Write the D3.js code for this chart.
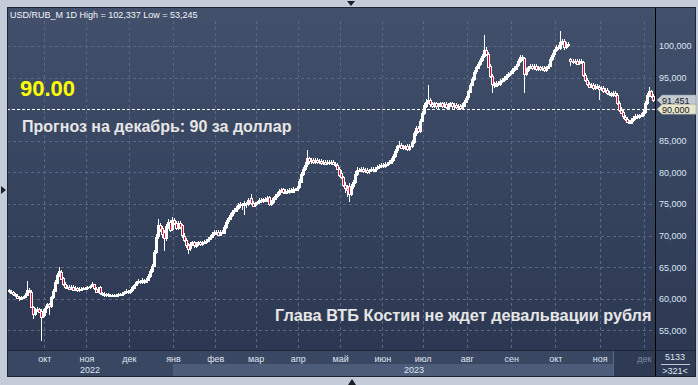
<!DOCTYPE html>
<html>
<head>
<meta charset="utf-8">
<script src="https://cdn.jsdelivr.net/npm/d3@7"></script>
<style>
html, body { margin: 0; padding: 0; background: #c3ccd8; }
svg { display: block; font-family: "Liberation Sans", Arial, sans-serif; }
</style>
</head>
<body>
<svg id="chart" width="698" height="385"></svg>
<script>
/* data: USD/RUB_M daily candles, Sep 2022 - Dec 2023 */

var opens = [
  61.3,61.1,61.0,60.7,60.5,60.2,60.0,60.1,60.3,60.6,
  61.4,61.1,58.7,57.6,58.2,58.4,58.1,57.2,58.0,58.6,
  59.1,58.8,60.2,61.2,62.6,63.8,64.3,63.2,62.3,61.8,
  61.9,61.6,61.9,61.5,61.7,61.4,61.6,61.5,61.7,61.6,
  61.8,62.0,62.3,61.6,61.2,61.8,60.9,60.8,60.6,60.7,
  60.5,60.6,60.4,60.6,60.5,60.7,60.6,60.8,61.0,61.2,
  61.0,61.3,61.8,62.2,62.6,62.8,62.6,62.9,62.7,63.0,
  63.6,64.4,65.2,67.4,69.8,71.6,71.2,70.6,69.6,71.5,
  72.2,71.0,72.4,72.0,71.2,72.0,71.6,70.0,69.3,68.5,
  67.9,68.6,68.9,68.4,68.7,68.9,68.6,68.9,69.0,69.2,
  69.5,69.8,70.3,70.6,70.6,70.2,70.6,70.5,71.4,72.2,
  72.7,73.3,73.8,74.0,74.4,74.8,75.0,74.8,75.1,74.9,
  76.0,75.2,74.8,75.1,75.3,75.6,75.5,75.8,75.6,76.1,
  75.0,75.3,75.9,76.3,76.6,77.0,77.3,76.8,77.1,76.9,
  77.2,77.0,77.4,77.3,77.6,78.6,79.8,80.6,81.2,82.2,
  81.8,82.0,81.7,81.9,81.6,81.8,81.5,81.7,81.4,81.6,
  81.5,81.7,81.4,81.2,80.6,79.9,79.2,78.0,77.5,77.9,
  76.6,77.8,78.5,79.8,80.4,80.3,80.5,80.2,80.4,80.1,
  80.3,80.5,80.3,80.6,80.8,81.0,81.2,81.0,81.3,81.4,
  81.6,82.0,82.6,83.4,84.1,84.4,84.0,83.8,84.2,83.7,
  84.2,84.8,86.2,87.0,86.6,88.2,89.4,90.6,91.2,91.5,
  90.8,90.5,90.9,90.4,90.6,90.9,90.5,90.8,90.3,90.7,
  90.9,90.4,90.6,90.3,90.5,90.2,90.6,91.2,91.8,92.8,
  93.9,94.8,95.9,96.6,97.2,97.8,98.4,99.4,98.8,96.8,
  95.2,94.0,93.8,94.2,94.0,94.4,94.6,94.9,95.3,95.6,
  95.8,96.2,96.5,96.9,97.6,98.2,98.1,95.6,96.2,96.6,
  96.8,96.5,96.9,96.4,96.6,96.3,96.5,96.2,96.6,96.9,
  98.0,98.6,99.3,99.8,99.6,100.6,100.8,99.9,100.3,97.9,
  97.6,97.5,97.7,97.3,97.6,97.4,95.4,94.6,94.0,93.6,
  93.8,93.4,93.7,93.5,93.2,93.3,92.9,93.0,92.6,92.4,
  92.3,92.5,92.2,91.0,89.9,89.5,88.8,88.5,88.0,87.9,
  88.3,88.6,88.9,88.7,89.0,89.1,89.6,91.0,92.3,92.8,
  92.1
];

var highs = [
  61.5,61.3,61.2,60.9,60.7,60.4,60.4,60.5,60.9,62.8,
  61.7,61.3,58.9,58.5,58.7,58.6,58.4,58.3,58.9,59.4,
  59.4,60.5,61.5,62.9,64.1,65.0,64.6,63.5,62.6,62.2,
  62.1,62.1,62.1,62.0,61.9,61.9,61.8,61.9,61.9,62.0,
  62.2,62.6,62.4,61.8,61.8,62.0,61.1,61.0,60.9,60.9,
  60.8,60.8,60.8,60.8,60.9,60.9,61.0,61.2,61.5,61.4,
  61.5,62.0,62.4,62.8,63.1,63.0,63.2,63.1,63.3,63.9,
  64.7,65.5,67.7,70.2,72.6,72.0,71.5,70.9,71.8,72.6,
  72.5,72.9,72.7,72.3,72.3,72.3,71.9,70.4,69.6,68.8,
  68.9,69.2,69.2,69.0,69.2,69.2,69.1,69.3,69.4,69.8,
  70.1,70.6,70.9,70.9,70.8,70.9,70.8,71.6,72.5,73.0,
  73.6,74.1,74.3,74.7,75.1,75.3,75.2,75.4,75.3,75.9,
  76.6,75.5,75.3,75.5,75.9,75.9,76.0,76.1,76.3,76.3,
  75.6,76.1,76.6,76.9,77.3,77.5,77.6,77.4,77.4,77.5,
  77.5,77.7,77.6,77.9,78.9,80.1,80.9,81.6,83.5,82.5,
  82.3,82.3,82.2,82.2,82.1,82.1,82.0,82.0,81.9,81.9,
  82.0,82.0,81.7,81.5,80.9,80.4,79.5,78.5,78.0,78.3,
  78.1,78.8,80.2,80.9,80.7,80.8,80.8,80.7,80.7,80.6,
  80.8,80.8,80.9,81.1,81.3,81.5,81.5,81.6,81.7,81.9,
  82.3,82.9,83.7,84.4,85.0,84.7,84.3,84.4,84.5,84.5,
  85.1,86.5,87.3,87.3,88.5,89.7,91.0,91.6,93.8,91.8,
  91.1,91.2,91.2,90.9,91.2,91.2,91.1,91.1,91.0,91.2,
  91.2,90.9,90.9,90.8,90.8,90.9,91.5,92.1,93.1,94.2,
  95.1,96.2,96.9,97.5,98.1,98.8,101.7,99.8,99.1,97.1,
  95.5,94.3,94.5,94.5,94.7,94.9,95.2,95.6,95.9,96.1,
  96.5,96.8,97.2,97.9,98.6,98.6,98.3,96.5,96.9,97.1,
  97.1,97.1,97.2,96.9,96.9,96.8,96.8,96.9,97.2,98.3,
  98.9,99.6,100.1,100.2,102.337,101.1,101.1,100.6,100.6,98.1,
  97.9,98.0,97.9,97.9,97.9,97.6,95.7,94.9,94.3,94.1,
  94.1,94.0,94.0,93.8,93.6,93.6,93.3,93.3,92.9,92.7,
  92.8,92.8,92.5,91.3,90.3,89.8,89.1,88.8,88.3,88.6,
  88.9,89.2,89.2,89.3,89.4,89.9,91.3,92.6,93.5,93.1,
  92.4
];

var lows = [
  60.9,60.8,60.5,60.3,60.0,59.7,59.8,59.9,60.1,60.4,
  60.9,58.5,56.8,57.3,57.9,57.7,53.245,56.9,57.3,58.3,
  57.4,58.6,60.0,61.0,62.4,63.5,63.0,62.0,61.5,61.5,
  61.3,61.3,61.2,61.2,61.1,61.1,61.2,61.3,61.3,61.3,
  61.6,61.8,61.4,60.9,60.9,60.6,60.5,60.3,60.3,60.2,
  60.2,60.2,60.2,60.3,60.3,60.4,60.4,60.6,60.8,60.8,
  60.8,61.1,61.6,62.0,62.4,62.3,62.4,62.4,62.5,62.8,
  63.3,64.1,65.0,67.0,69.4,70.6,69.6,67.5,69.2,71.0,
  70.6,70.7,71.6,70.8,70.9,71.0,69.6,68.9,68.1,67.1,
  67.6,68.3,68.1,68.1,68.4,68.3,68.3,68.6,68.7,68.9,
  69.3,69.6,70.0,70.1,69.9,70.0,70.2,70.2,71.1,71.9,
  72.4,73.0,73.4,73.8,74.1,74.3,74.1,73.3,74.4,74.6,
  74.9,74.5,74.5,74.8,75.0,75.2,75.2,75.3,75.3,74.7,
  74.7,75.0,75.6,76.0,76.3,76.7,76.5,76.5,76.6,76.6,
  76.7,76.8,77.0,77.0,77.4,78.3,79.4,80.2,80.8,81.4,
  81.4,81.4,81.4,81.3,81.3,81.2,81.2,81.1,81.1,81.2,
  81.2,81.1,80.9,80.3,79.3,78.9,77.7,76.8,76.1,75.3,
  76.2,77.3,78.2,79.5,80.0,80.0,79.9,79.9,79.8,79.8,
  80.0,80.0,80.0,80.3,80.5,80.7,80.7,80.7,81.0,81.1,
  81.3,81.7,82.3,83.1,83.8,83.7,83.5,83.5,83.4,83.4,
  83.9,84.5,85.8,86.2,86.3,87.9,89.0,90.2,90.8,90.4,
  90.2,90.2,90.1,90.1,90.3,90.2,90.2,90.0,90.0,90.4,
  90.1,90.1,90.0,90.0,89.9,89.9,90.3,90.9,91.5,92.5,
  93.6,94.5,95.6,96.3,96.9,97.5,98.1,98.4,96.5,94.9,
  92.6,93.4,93.5,93.7,93.7,94.1,94.3,94.6,95.0,95.3,
  95.5,95.9,96.2,96.6,97.3,97.7,92.6,95.2,95.9,96.3,
  96.2,96.2,96.1,96.1,96.0,96.0,95.9,95.9,96.3,96.6,
  97.7,98.3,99.0,99.3,99.3,100.2,99.4,99.6,99.9,96.8,
  97.2,97.2,97.0,97.0,97.1,95.1,94.3,93.7,93.3,93.3,
  93.1,93.1,93.2,91.5,92.9,92.6,92.6,92.3,92.1,92.0,
  92.0,91.9,90.7,89.6,89.2,88.5,88.2,87.8,87.7,87.7,
  88.0,88.3,88.4,88.4,88.7,88.8,89.3,90.7,92.0,91.7,
  91.1
];

var closes = [
  61.1,61.0,60.7,60.5,60.2,60.0,60.1,60.3,60.6,61.4,
  61.2,58.8,57.6,58.2,58.4,58.0,57.2,58.0,58.6,59.1,
  58.8,60.2,61.2,62.6,63.8,64.4,63.2,62.3,61.8,61.9,
  61.6,61.9,61.5,61.7,61.4,61.6,61.5,61.7,61.6,61.8,
  62.0,62.3,61.6,61.2,61.5,60.9,60.8,60.6,60.7,60.5,
  60.6,60.4,60.6,60.5,60.7,60.6,60.8,61.0,61.2,61.0,
  61.3,61.8,62.2,62.6,62.8,62.6,62.9,62.7,63.0,63.6,
  64.4,65.2,67.4,69.8,71.6,71.0,70.2,69.6,71.5,72.2,
  71.0,72.4,72.0,71.2,72.0,71.4,70.0,69.3,68.5,67.9,
  68.6,68.9,68.4,68.7,68.9,68.6,68.9,69.0,69.2,69.5,
  69.8,70.3,70.6,70.4,70.2,70.6,70.5,71.4,72.2,72.7,
  73.3,73.8,74.0,74.4,74.8,75.0,74.8,75.1,74.9,75.6,
  75.2,74.8,75.1,75.3,75.6,75.5,75.8,75.6,76.0,75.0,
  75.3,75.9,76.3,76.6,77.0,77.2,76.8,77.1,76.9,77.2,
  77.0,77.4,77.3,77.6,78.6,79.8,80.6,81.2,82.2,81.8,
  82.0,81.7,81.9,81.6,81.8,81.5,81.7,81.4,81.6,81.5,
  81.7,81.4,81.2,80.6,79.6,79.2,78.0,77.5,77.2,76.6,
  77.8,78.5,79.8,80.4,80.3,80.5,80.2,80.4,80.1,80.3,
  80.5,80.3,80.6,80.8,81.0,81.2,81.0,81.3,81.4,81.6,
  82.0,82.6,83.4,84.1,84.4,84.0,83.8,84.1,83.7,84.2,
  84.8,86.2,87.0,86.6,88.2,89.4,90.6,91.2,91.4,90.8,
  90.5,90.9,90.4,90.6,90.9,90.5,90.8,90.3,90.7,90.9,
  90.4,90.6,90.3,90.5,90.2,90.6,91.2,91.8,92.8,93.9,
  94.8,95.9,96.6,97.2,97.8,98.4,99.4,98.8,96.8,95.2,
  94.0,93.8,94.2,94.0,94.4,94.6,94.9,95.3,95.6,95.8,
  96.2,96.5,96.9,97.6,98.2,98.0,95.6,96.2,96.6,96.8,
  96.5,96.8,96.4,96.6,96.3,96.5,96.2,96.6,96.9,98.0,
  98.6,99.3,99.8,99.6,100.6,100.8,99.9,100.3,100.2,97.6,
  97.5,97.7,97.3,97.6,97.4,95.4,94.6,94.0,93.6,93.8,
  93.4,93.7,93.5,93.2,93.3,92.9,93.0,92.6,92.4,92.3,
  92.5,92.2,91.0,89.9,89.5,88.8,88.5,88.0,87.9,88.3,
  88.6,88.9,88.7,89.0,89.1,89.6,91.0,92.3,92.8,92.0,
  91.451
];

// month boundaries (in bar index) and their labels
var monthLabels = ["окт","ноя","дек","янв","фев","мар","апр","май","июн","июл","авг","сен","окт","ноя","дек"];
var monthStarts = [17.5,38.5,59.5,81.5,102.5,122.5,143.5,164.5,185.5,205.5,227.5,249.5,271.5,293.5,315.5];
var yearLabels = ["2022","2023"];
var yearStarts = [null, 81.5];

var yTicks = [55,60,65,70,75,80,85,90,95,100];
var lastPrice = 91.451;
var targetLevel = 90;

var title = "USD/RUB_M 1D High = 102,337 Low = 53,245";
var bigLabel = "90.00";
var note1 = "Прогноз на декабрь: 90 за доллар";
var note2 = "Глава ВТБ Костин не ждет девальвации рубля";
var barsInfo = ["5133", ">321<"];

/* layout */

var fl = 7, fr = 696, ft = 7, fb = 377;   // frame
var pr = 655, pb = 350;                    // plot right / bottom
var svg = d3.select("#chart");

var ru = d3.formatLocale({decimal: ",", thousands: " ", grouping: [3], currency: ["", ""]});
var fmt3 = ru.format(".3f");

var x = d3.scaleLinear().domain([0, closes.length - 1]).range([9, 653]);
var y = d3.scaleLinear().domain([55, 100]).range([330.3, 46]);

var defs = svg.append("defs");
var grad = defs.append("linearGradient").attr("id", "bg")
  .attr("x1", 0).attr("y1", 0).attr("x2", 0).attr("y2", 1);
grad.append("stop").attr("offset", "0%").attr("stop-color", "#42506b");
grad.append("stop").attr("offset", "100%").attr("stop-color", "#2c3852");
defs.append("clipPath").attr("id", "clip").append("rect")
  .attr("x", fl + 1).attr("y", ft + 1).attr("width", pr - fl - 1).attr("height", pb - ft - 1);

// background
svg.append("rect").attr("x", fl).attr("y", ft).attr("width", fr - fl).attr("height", pb - ft)
  .attr("fill", "url(#bg)");

// bottom band
svg.append("rect").attr("x", fl).attr("y", pb).attr("width", pr - fl).attr("height", fb - pb)
  .attr("fill", "#3a4762");
svg.append("rect").attr("x", x(yearStarts[1])).attr("y", 364).attr("width", pr - x(yearStarts[1])).attr("height", fb - 364)
  .attr("fill", "#4d5c79");
svg.append("rect").attr("x", 613).attr("y", pb).attr("width", pr - 613).attr("height", fb - pb)
  .attr("fill", "#2f3a54");
svg.append("line").attr("x1", 613.5).attr("x2", 613.5).attr("y1", pb).attr("y2", fb)
  .attr("stroke", "#59688a");
svg.append("rect").attr("x", pr).attr("y", pb).attr("width", fr - pr).attr("height", fb - pb)
  .attr("fill", "#2f3a54");

// grid
var grid = svg.append("g").attr("stroke", "#5a6883").attr("stroke-dasharray", "3,3").attr("shape-rendering", "crispEdges");
grid.selectAll("line.h").data(yTicks.filter(function(d){ return d != targetLevel; })).join("line")
  .attr("x1", fl).attr("x2", pr)
  .attr("y1", function(d){ return Math.round(y(d)) + 0.5; })
  .attr("y2", function(d){ return Math.round(y(d)) + 0.5; });
grid.selectAll("line.v").data(monthStarts).join("line")
  .attr("x1", function(d){ return Math.round(x(d)) + 0.5; })
  .attr("x2", function(d){ return Math.round(x(d)) + 0.5; })
  .attr("y1", ft + 14).attr("y2", pb);

// 90 level
svg.append("line").attr("x1", fl).attr("x2", pr)
  .attr("y1", Math.round(y(targetLevel)) + 0.5).attr("y2", Math.round(y(targetLevel)) + 0.5)
  .attr("stroke", "#ffffff").attr("stroke-dasharray", "3,2").attr("shape-rendering", "crispEdges");

// candles
var bars = svg.append("g").attr("clip-path", "url(#clip)").attr("shape-rendering", "crispEdges");
var c = bars.selectAll("g").data(d3.range(closes.length)).join("g");
c.append("line")
  .attr("x1", function(i){ return Math.round(x(i)) + 0.5; })
  .attr("x2", function(i){ return Math.round(x(i)) + 0.5; })
  .attr("y1", function(i){ return Math.round(y(highs[i])); })
  .attr("y2", function(i){ return Math.round(y(lows[i])); })
  .attr("stroke", "#ffffff");
c.append("rect")
  .attr("x", function(i){ return Math.round(x(i)) - 0.5; })
  .attr("width", 2)
  .attr("y", function(i){ return Math.round(y(Math.max(opens[i], closes[i]))) + 0.5; })
  .attr("height", function(i){ return Math.max(1, Math.round(Math.abs(y(opens[i]) - y(closes[i])))); })
  .attr("fill", function(i){ return closes[i] >= opens[i] ? "#ffffff" : "#e3002b"; })
  .attr("stroke", "#ffffff");

// frame lines
svg.append("line").attr("x1", pr + 0.5).attr("x2", pr + 0.5).attr("y1", ft).attr("y2", fb)
  .attr("stroke", "#000000");
svg.append("line").attr("x1", fl).attr("x2", fr).attr("y1", pb + 0.5).attr("y2", pb + 0.5)
  .attr("stroke", "#1e2535");
svg.append("rect").attr("x", fl + 0.5).attr("y", ft + 0.5).attr("width", fr - fl - 1).attr("height", fb - ft - 1)
  .attr("fill", "none").attr("stroke", "#1e2535");

// y axis
var yAxis = svg.append("g").attr("transform", "translate(" + pr + ",0)")
  .call(d3.axisRight(y).tickValues(yTicks.filter(function(d){ return d != targetLevel; })).tickSize(0).tickPadding(4).tickFormat(fmt3));
yAxis.select(".domain").remove();
yAxis.selectAll("text").attr("fill", "#dae6f6").attr("font-size", 9).attr("font-family", "Liberation Sans, Arial, sans-serif");

// price tags
function tag(v, bg){
  var yy = y(v);
  svg.append("path")
    .attr("d", "M657," + yy + "L662," + (yy - 5) + "L" + fr + "," + (yy - 5) + "L" + fr + "," + (yy + 5) + "L662," + (yy + 5) + "Z")
    .attr("fill", bg).attr("stroke", "#8a919c").attr("stroke-width", 0.5);
  svg.append("text").attr("x", 662).attr("y", yy + 3.5).attr("font-size", 9)
    .attr("fill", "#15181f").text(fmt3(v));
}
tag(lastPrice, "#c3c8d1");
tag(targetLevel, "#e8e5c9");

// x axis
var xAxis = svg.append("g").attr("transform", "translate(0," + pb + ")")
  .call(d3.axisBottom(x).tickValues(monthStarts).tickSize(0).tickPadding(6)
    .tickFormat(function(d, i){ return monthLabels[i]; }));
xAxis.select(".domain").remove();
xAxis.selectAll("text").attr("font-size", 9).attr("font-family", "Liberation Sans, Arial, sans-serif")
  .attr("fill", function(d, i){ return i == monthLabels.length - 1 ? "#7f8ba1" : "#dfe6f1"; });

var yearMid = [(fl + x(yearStarts[1])) / 2, (x(yearStarts[1]) + pr) / 2];
svg.selectAll("text.year").data(yearLabels).join("text").attr("class", "year")
  .attr("x", function(d, i){ return yearMid[i]; }).attr("y", 373)
  .attr("text-anchor", "middle").attr("font-size", 9).attr("fill", "#dfe6f1").text(function(d){ return d; });

// bars counter box
svg.append("text").attr("x", 675).attr("y", 360).attr("text-anchor", "middle")
  .attr("font-size", 9).attr("fill", "#dfe6f1").text(barsInfo[0]);
svg.append("line").attr("x1", 661).attr("x2", 690).attr("y1", 364.5).attr("y2", 364.5)
  .attr("stroke", "#b9c4d4");
svg.append("text").attr("x", 675).attr("y", 374).attr("text-anchor", "middle")
  .attr("font-size", 9).attr("fill", "#dfe6f1").text(barsInfo[1]);

// texts
svg.append("text").attr("x", 10).attr("y", 18).attr("font-size", 9).attr("fill", "#f2f4f8").text(title);
svg.append("text").attr("x", 20).attr("y", 96).attr("font-size", 22).attr("font-weight", "bold")
  .attr("fill", "#ffff00").text(bigLabel);
svg.append("text").attr("x", 22).attr("y", 132).attr("font-size", 16).attr("font-weight", "bold")
  .attr("fill", "#e6e6e6").text(note1);
svg.append("text").attr("x", 275).attr("y", 321).attr("font-size", 16.3).attr("font-weight", "bold")
  .attr("fill", "#e6e6e6").text(note2);

// little frame arrows
svg.append("path").attr("d", "M347,1L355,1L351,6Z").attr("fill", "#1d1f24");
svg.append("path").attr("d", "M1,186L1,194L6,190Z").attr("fill", "#1d1f24");
svg.append("path").attr("d", "M348,385L356,385L352,379Z").attr("fill", "#1d1f24");
</script>
</body>
</html>
